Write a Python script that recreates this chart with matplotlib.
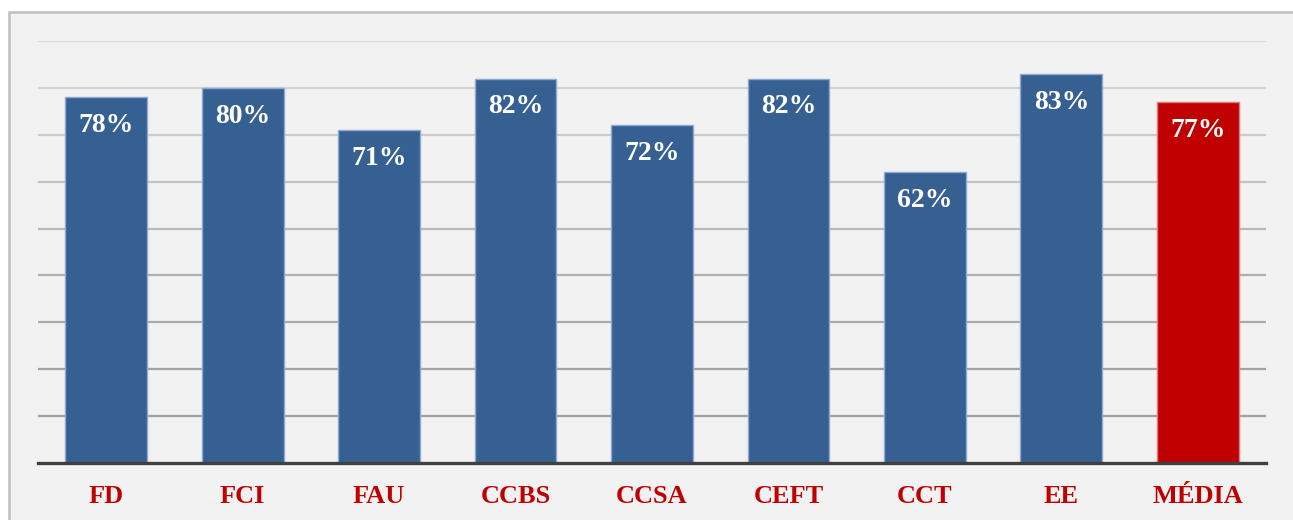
import matplotlib
matplotlib.use("Agg")
import matplotlib.pyplot as plt
from matplotlib.patches import Rectangle

categories = ["FD", "FCI", "FAU", "CCBS", "CCSA", "CEFT", "CCT", "EE", "MÉDIA"]
values = [78, 80, 71, 82, 72, 82, 62, 83, 77]

blue = "#366092"
red = "#c00000"
bar_colors = [blue] * 8 + [red]
edge_colors = ["#8faad0"] * 8 + ["#e07b7b"]

# grid lines get darker toward the bottom, like the original
grid_levels = [10, 20, 30, 40, 50, 60, 70, 80, 90]
grid_colors = ["#a0a0a0", "#a3a3a3", "#aaaaaa", "#b0b0b0", "#b8b8b8",
               "#c2c2c2", "#cbcbcb", "#d3d3d3", "#dadada"]

plt.rcParams["font.family"] = ["Liberation Serif", "DejaVu Serif"]

fig = plt.figure(figsize=(12.93, 5.2), dpi=100)
fig.patch.set_facecolor("white")

# panel background with a border on the top and left
bg = Rectangle((9 / 1293, -0.05), 1.2, 1.05 - 12 / 520, transform=fig.transFigure,
               facecolor="#f2f2f2", edgecolor="#bfbfbf", linewidth=1.8, zorder=-1)
fig.patches.append(bg)

ax = fig.add_axes([38 / 1293, 1 - 463 / 520, (1266 - 38) / 1293, (463 - 41) / 520])
ax.set_facecolor("none")
ax.set_zorder(1)

for lvl, col in zip(grid_levels, grid_colors):
    ax.axhline(lvl, color=col, linewidth=1.6, zorder=1)

x = range(len(categories))
bars = ax.bar(x, values, width=0.6, color=bar_colors, edgecolor=edge_colors,
              linewidth=1.0, zorder=2)

for rect, v in zip(bars, values):
    ax.annotate(f"{v}%", (rect.get_x() + rect.get_width() / 2, v),
                xytext=(0, -20.5), textcoords="offset points",
                ha="center", va="center", color="white",
                fontsize=20, fontweight="bold", zorder=3)

ax.set_xlim(-0.5, len(categories) - 0.5)
ax.set_ylim(0, 90)
ax.set_yticks([])
ax.set_xticks(list(x))
ax.set_xticklabels(categories, fontsize=19, fontweight="bold", color=red)
ax.tick_params(axis="x", length=0, pad=16)

for side in ["top", "right", "left"]:
    ax.spines[side].set_visible(False)
ax.spines["bottom"].set_color("#404040")
ax.spines["bottom"].set_linewidth(2.4)
ax.spines["bottom"].set_zorder(4)

fig.savefig("out.png", dpi=100)
